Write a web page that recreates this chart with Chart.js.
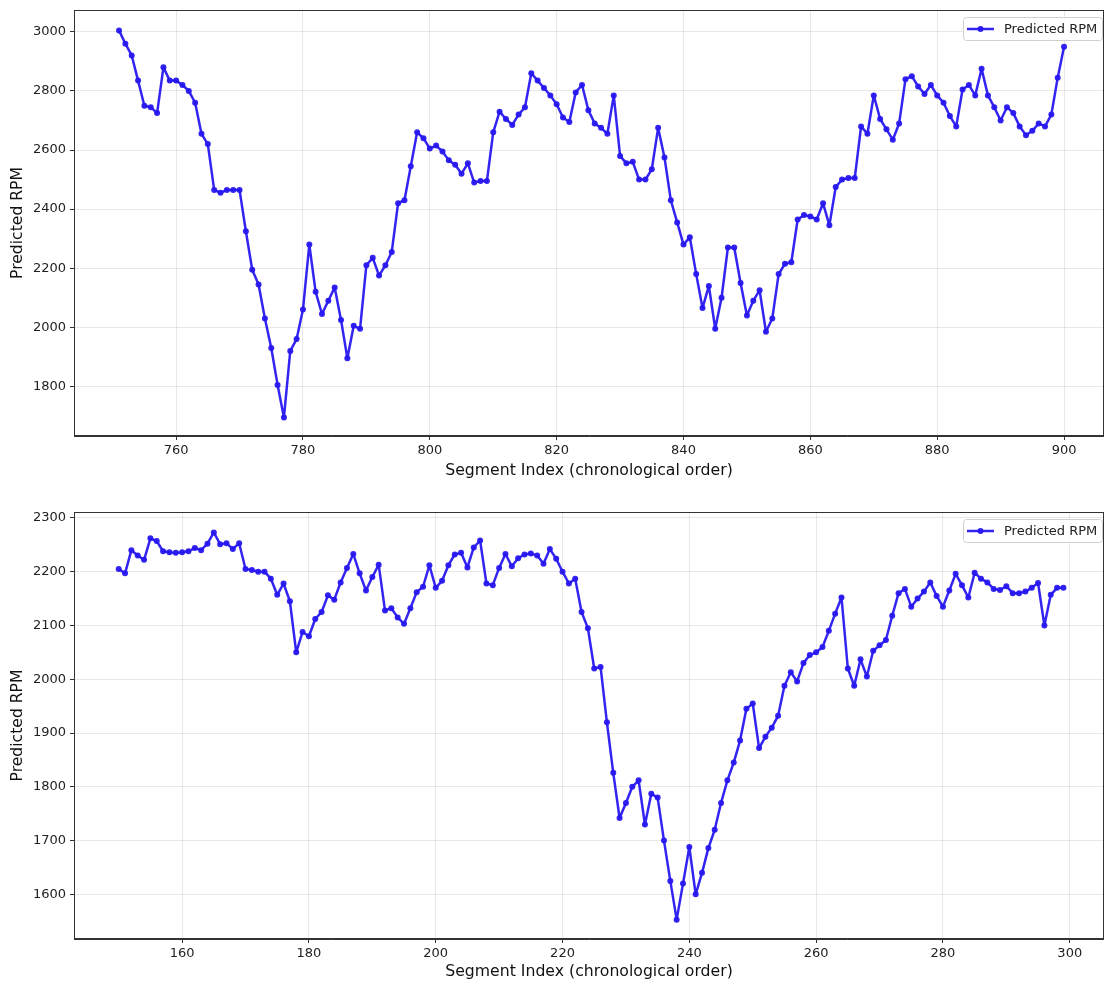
<!DOCTYPE html>
<html>
<head>
<meta charset="utf-8">
<script src="https://cdn.jsdelivr.net/npm/chart.js@4"></script>
<style>
  html, body { margin: 0; padding: 0; background: #fff; }
  body { width: 1104px; height: 981px; position: relative; overflow: hidden; }
  .box { position: absolute; left: 0; width: 1107px; }
  #top { top: 0; height: 483px; }
  #bottom { top: 497px; height: 484px; }
</style>
</head>
<body>
<div class="box" id="top"><canvas id="c1"></canvas></div>
<div class="box" id="bottom"><canvas id="c2"></canvas></div>
<script>
// top panel: segments 751..900
const topStart = 751;
const topRpm = [
  3005, 2960, 2920, 2835, 2750, 2745, 2725, 2880, 2835, 2835,
  2820, 2800, 2760, 2655, 2620, 2465, 2455, 2465, 2465, 2465,
  2325, 2195, 2145, 2030, 1930, 1805, 1695, 1920, 1960, 2060,
  2280, 2120, 2045, 2090, 2135, 2025, 1895, 2005, 1995, 2210,
  2235, 2175, 2210, 2255, 2420, 2430, 2545, 2660, 2640, 2605,
  2615, 2595, 2565, 2550, 2520, 2555, 2490, 2495, 2495, 2660,
  2730, 2705, 2685, 2720, 2745, 2860, 2835, 2810, 2785, 2755,
  2710, 2695, 2795, 2820, 2735, 2690, 2675, 2655, 2785, 2580,
  2555, 2560, 2500, 2500, 2535, 2675, 2575, 2430, 2355, 2280,
  2305, 2180, 2065, 2140, 1995, 2100, 2270, 2270, 2150, 2040,
  2090, 2125, 1985, 2030, 2180, 2215, 2220, 2365, 2380, 2375,
  2365, 2420, 2345, 2475, 2500, 2505, 2505, 2680, 2655, 2785,
  2705, 2670, 2635, 2690, 2840, 2850, 2815, 2790, 2820, 2785,
  2760, 2715, 2680, 2805, 2820, 2785, 2875, 2785, 2745, 2700,
  2745, 2725, 2680, 2650, 2665, 2690, 2680, 2720, 2845, 2950
];
const topXTicks = [760, 780, 800, 820, 840, 860, 880, 900];
const topYTicks = [1800, 2000, 2200, 2400, 2600, 2800, 3000];

// bottom panel: segments 150..299
const bottomStart = 150;
const bottomRpm = [
  2205, 2197, 2240, 2230, 2222, 2262, 2257, 2238, 2236, 2235,
  2236, 2238, 2244, 2240, 2252, 2273, 2251, 2253, 2242, 2253,
  2205, 2203, 2200, 2200, 2187, 2157, 2178, 2145, 2050, 2088,
  2080, 2112, 2125, 2156, 2148, 2180, 2207, 2233, 2197, 2165,
  2190, 2213, 2128, 2132, 2115, 2103, 2132, 2162, 2172, 2212,
  2170, 2183, 2212, 2232, 2235, 2208, 2245, 2258, 2178, 2175,
  2207, 2233, 2210, 2225, 2232, 2234, 2230, 2215, 2242, 2224,
  2200, 2178, 2187, 2125, 2095, 2020, 2023, 1920, 1826, 1742,
  1770, 1800, 1812, 1730, 1787, 1780, 1700, 1625, 1553, 1620,
  1688, 1600, 1640, 1686, 1720, 1770, 1812, 1845, 1886, 1945,
  1955, 1872, 1893, 1910, 1932, 1988, 2013, 1996, 2030, 2045,
  2050, 2060, 2090, 2122, 2152, 2020, 1988, 2037, 2005, 2053,
  2063, 2073, 2118, 2160, 2168, 2135, 2150, 2163, 2180, 2155,
  2135, 2165, 2196, 2175, 2152, 2198, 2187, 2180, 2168, 2166,
  2173, 2160, 2160, 2163, 2170, 2179, 2100, 2157, 2170, 2170
];
const bottomXTicks = [160, 180, 200, 220, 240, 260, 280, 300];
const bottomYTicks = [1600, 1700, 1800, 1900, 2000, 2100, 2200, 2300];

const lineColor = 'rgba(40, 24, 240, 0.95)';
const font = "'DejaVu Sans', sans-serif";

// matplotlib-style frame + legend inside the axes
const frameAndLegend = {
  id: 'frameAndLegend',
  afterDraw(chart) {
    const ctx = chart.ctx;
    const a = chart.chartArea;
    ctx.save();
    ctx.strokeStyle = '#333';
    ctx.lineWidth = 1;
    ctx.strokeRect(a.left + 0.5, a.top + 0.5, a.right - a.left - 1, a.bottom - a.top - 1);

    const w = 139, h = 23;
    const x = a.right - w - 2, y = a.top + 7;
    ctx.fillStyle = 'rgba(255,255,255,0.85)';
    ctx.strokeStyle = '#d0d0d0';
    ctx.beginPath();
    ctx.roundRect(x + 0.5, y + 0.5, w, h, 3);
    ctx.fill();
    ctx.stroke();
    ctx.strokeStyle = lineColor;
    ctx.lineWidth = 2.5;
    ctx.beginPath();
    ctx.moveTo(x + 4, y + h / 2 + 0.5);
    ctx.lineTo(x + 31, y + h / 2 + 0.5);
    ctx.stroke();
    ctx.fillStyle = lineColor;
    ctx.beginPath();
    ctx.arc(x + 17.5, y + h / 2 + 0.5, 3, 0, Math.PI * 2);
    ctx.fill();
    ctx.fillStyle = '#222';
    ctx.font = '13px ' + font;
    ctx.textBaseline = 'middle';
    ctx.fillText('Predicted RPM', x + 41, y + h / 2 + 1);
    ctx.restore();
  }
};

function makeChart(id, start, values, xTicks, yTicks, xr, yr, padTop, xAxisH, titlePadBottom) {
  const points = values.map((v, i) => ({ x: start + i, y: v }));
  return new Chart(document.getElementById(id), {
    type: 'line',
    data: {
      datasets: [{
        label: 'Predicted RPM',
        data: points,
        borderColor: lineColor,
        backgroundColor: lineColor,
        borderWidth: 2.5,
        borderJoinStyle: 'round',
        pointRadius: 3,
        pointHoverRadius: 3,
        pointBorderWidth: 0,
        tension: 0,
      }],
    },
    options: {
      responsive: true,
      maintainAspectRatio: false,
      animation: false,
      layout: { padding: { top: padTop, right: 0, left: 0, bottom: 0 } },
      plugins: {
        legend: { display: false },
        tooltip: { enabled: false },
      },
      scales: {
        x: {
          type: 'linear',
          min: xr[0],
          max: xr[1],
          afterBuildTicks: (s) => { s.ticks = xTicks.map(v => ({ value: v })); },
          afterFit: (s) => { s.height = xAxisH; s.paddingLeft = 0; s.paddingRight = 0; },
          ticks: { color: '#222', font: { family: font, size: 13 }, padding: 3, maxRotation: 0, autoSkip: false },
          grid: { color: 'rgba(0,0,0,0.09)', tickColor: '#333', tickLength: 4 },
          border: { color: '#333' },
          title: {
            display: true,
            text: 'Segment Index (chronological order)',
            color: '#111',
            font: { family: font, size: 15.7 },
            padding: { top: 2, bottom: titlePadBottom },
          },
        },
        y: {
          min: yr[0],
          max: yr[1],
          afterBuildTicks: (s) => { s.ticks = yTicks.map(v => ({ value: v })); },
          afterFit: (s) => { s.width = 74; s.paddingTop = 0; s.paddingBottom = 0; },
          ticks: { color: '#222', font: { family: font, size: 13 }, padding: 4, autoSkip: false, callback: (v) => String(v) },
          grid: { color: 'rgba(0,0,0,0.09)', tickColor: '#333', tickLength: 4 },
          border: { color: '#333' },
          title: {
            display: true,
            text: 'Predicted RPM',
            color: '#111',
            font: { family: font, size: 15.6 },
            padding: { top: 9, bottom: 4 },
          },
        },
      },
    },
    plugins: [frameAndLegend],
  });
}

makeChart('c1', topStart, topRpm, topXTicks, topYTicks, [743.9, 906.3], [1632, 3074], 10, 47, 3);
makeChart('c2', bottomStart, bottomRpm, bottomXTicks, bottomYTicks, [142.95, 305.4], [1517, 2311], 15, 42, 0);
</script>
</body>
</html>
